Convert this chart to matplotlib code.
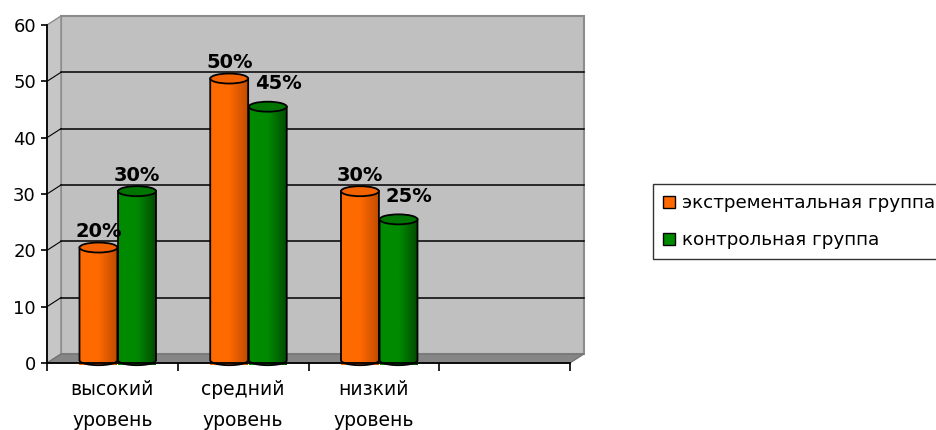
import numpy as np
import matplotlib
matplotlib.use('Agg')
from matplotlib import pyplot as plt
from matplotlib.patches import Polygon, Ellipse, Patch
from matplotlib.colors import LinearSegmentedColormap


categories = ['высокий\nуровень', 'средний\nуровень', 'низкий\nуровень', '']
series_names = ['экстрементальная группа', 'контрольная группа']
experimental = [20, 50, 30]
control = [30, 45, 25]
yticks = [0, 10, 20, 30, 40, 50, 60]

# colours: face, dark side, top
orange = ('#ff6a00', '#c24c00', '#f26200')
green = ('#008a00', '#004c00', '#007400')

plt.rcParams['font.family'] = ['DejaVu Sans']

fig = plt.figure(figsize=(9.37, 4.30), dpi=100)
ax = fig.add_axes([47/937, 1 - 363/430, 523/937, 338/430])
ax.set_autoscale_on(False)
ncat = len(categories)
ax.set_xlim(0, ncat)
ax.set_ylim(0, 60)
ax.patch.set_visible(False)

# depth of the 3d box in data units
depth_x = 14/131
depth_y = 9/(338/60)

wall = '#c0c0c0'
edge = '#8c8c8c'
floor = '#868686'

# back wall, side wall, floor
ax.add_patch(Polygon([(depth_x, depth_y), (ncat + depth_x, depth_y), (ncat + depth_x, 60 + depth_y), (depth_x, 60 + depth_y)],
                     closed=True, facecolor=wall, edgecolor=edge, linewidth=1.5, clip_on=False, zorder=0))
ax.add_patch(Polygon([(0, 0), (depth_x, depth_y), (depth_x, 60 + depth_y), (0, 60)],
                     closed=True, facecolor='#c6c6c6', edgecolor=edge, linewidth=1.0, clip_on=False, zorder=0))
ax.add_patch(Polygon([(0, 0), (ncat, 0), (ncat + depth_x, depth_y), (depth_x, depth_y)],
                     closed=True, facecolor=floor, edgecolor='#707070', linewidth=0.8, clip_on=False, zorder=0.5))

# grid lines on back and side walls
for v in yticks[1:-1]:
    ax.plot([depth_x, ncat + depth_x], [v + depth_y, v + depth_y], color='black', linewidth=1.1, clip_on=False, zorder=0.6)
    ax.plot([0, depth_x], [v, v + depth_y], color='black', linewidth=0.8, clip_on=False, zorder=0.6)

bar_width = 0.29
bar_pos = [0.34, 0.635]
ell_h = 10/(338/60)


def cylinder(xc, value, colors):
    base = depth_y/2 - 0.3
    top = value + base
    x0, x1 = xc - bar_width/2, xc + bar_width/2
    theta = np.linspace(np.pi, 2*np.pi, 40)
    arc_x = xc + bar_width/2*np.cos(theta)
    arc_y = base + ell_h/2*np.sin(theta)
    body = np.vstack([[x0, top]] + [np.column_stack([arc_x, arc_y])] + [[x1, top]])
    outline = Polygon(body, closed=True, facecolor='none', edgecolor='black', linewidth=1.3, zorder=3, clip_on=False)
    cmap = LinearSegmentedColormap.from_list('shade', [colors[0], colors[0], colors[1]])
    grad = np.linspace(0, 1, 64).reshape(1, -1)
    im = ax.imshow(grad, cmap=cmap, extent=[x0, x1, base - ell_h/2, top], aspect='auto', zorder=2, clip_on=False)
    ax.add_patch(outline)
    im.set_clip_path(outline)
    ax.add_patch(Ellipse((xc, top), bar_width, ell_h, facecolor=colors[2], edgecolor='black', linewidth=1.3, zorder=4, clip_on=False))
    return top + ell_h/2


for i in range(len(experimental)):
    tops = []
    for s, (vals, colors) in enumerate([(experimental, orange), (control, green)]):
        xc = i + bar_pos[s] + depth_x/2
        tops.append((xc, cylinder(xc, vals[i], colors), vals[i]))
    for s, (xc, ytop, v) in enumerate(tops):
        # shift the label of a shorter second bar clear of its neighbour
        shifted = s == 1 and control[i] < experimental[i]
        off = (7.5, 6.0) if shifted else (0, 1.0)
        ax.annotate('{:d}%'.format(v), (xc, ytop), xytext=off, textcoords='offset points', ha='center', va='bottom',
                    fontsize=14, fontweight='bold', color='black', zorder=5, annotation_clip=False)

# front axes
for side in ['top', 'right']:
    ax.spines[side].set_visible(False)
ax.spines['left'].set_linewidth(1.3)
ax.spines['bottom'].set_linewidth(1.3)
ax.spines['left'].set_zorder(6)
ax.spines['bottom'].set_zorder(6)
ax.set_yticks(yticks)
ax.tick_params(axis='y', length=4, width=1.2, pad=4, labelsize=13, colors='black')
ax.set_xticks(np.arange(ncat + 1))
ax.set_xticklabels([])
ax.tick_params(axis='x', which='major', length=6, width=1.2, direction='out')
ax.set_xticks(np.arange(ncat) + 0.5, minor=True)
ax.set_xticklabels(categories, minor=True, fontsize=13.5, linespacing=1.75)
ax.tick_params(axis='x', which='minor', length=0, pad=12.5)

handles = [Patch(facecolor=orange[0], edgecolor='black', linewidth=1.0),
           Patch(facecolor=green[0], edgecolor='black', linewidth=1.0)]
leg = fig.legend(handles, series_names, loc='upper left', bbox_to_anchor=(653/937, 1 - 184/430), fontsize=13.2,
                 frameon=True, fancybox=False, edgecolor='black', handlelength=0.65, handleheight=0.65,
                 handletextpad=0.4, labelspacing=1.05, borderpad=0.55, borderaxespad=0)
leg.get_frame().set_linewidth(1.0)

fig.savefig('out.png', dpi=100)
